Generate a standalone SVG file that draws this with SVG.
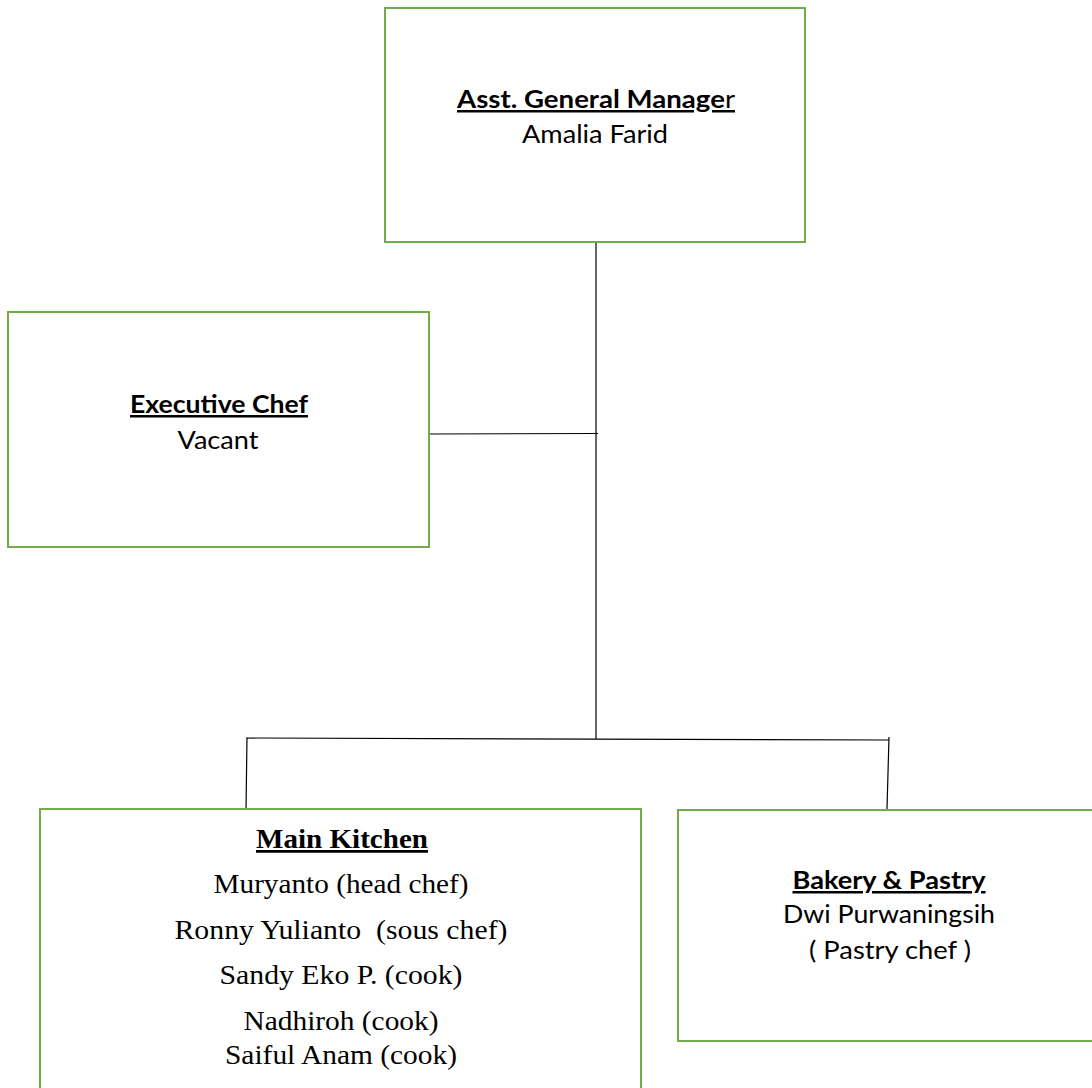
<svg xmlns="http://www.w3.org/2000/svg" width="1092" height="1088" viewBox="0 0 1092 1088">
<style>
.box{fill:#fff;stroke:#70AD47;stroke-width:2}
.c{fill:none;stroke:#000;stroke-width:1.2}
.s{font-family:Lato,"Liberation Sans",sans-serif;font-size:25px;fill:#000;text-anchor:middle}
.sb{font-weight:bold;text-decoration:underline}
.t{font-family:"Liberation Serif",serif;font-size:27.5px;fill:#000;text-anchor:middle}
.tb{font-weight:bold;text-decoration:underline}
</style>
<rect width="1092" height="1088" fill="#fff"/>
<g id="connectors">
<path class="c" d="M596 242 V739"/>
<path class="c" d="M429 434 L598 433.5"/>
<path class="c" d="M246 738 L889 740"/>
<path class="c" d="M247 738 L246 810"/>
<path class="c" d="M889 737 L887 809"/>
</g>
<g id="agm">
<rect class="box" x="385" y="8" width="420" height="234"/>
<text class="s" x="596" y="108" textLength="278" lengthAdjust="spacingAndGlyphs"><tspan class="sb">Asst. General Manage</tspan><tspan text-decoration="underline">r</tspan></text>
<text class="s" x="595" y="143" textLength="146" lengthAdjust="spacingAndGlyphs">Amalia Farid</text>
</g>
<g id="exec">
<rect class="box" x="8" y="312" width="421" height="235"/>
<text class="s sb" x="219" y="413" textLength="178" lengthAdjust="spacingAndGlyphs">Executive Chef</text>
<text class="s" x="218" y="449" textLength="81" lengthAdjust="spacingAndGlyphs">Vacant</text>
</g>
<g id="main">
<rect class="box" x="40" y="809" width="601" height="290"/>
<text class="t tb" x="342" y="848" textLength="172" lengthAdjust="spacingAndGlyphs">Main Kitchen</text>
<text class="t" x="341" y="893" textLength="255" lengthAdjust="spacingAndGlyphs">Muryanto (head chef)</text>
<text class="t" x="341" y="939" textLength="333" lengthAdjust="spacingAndGlyphs" xml:space="preserve">Ronny Yulianto  (sous chef)</text>
<text class="t" x="341" y="984" textLength="243" lengthAdjust="spacingAndGlyphs">Sandy Eko P. (cook)</text>
<text class="t" x="341" y="1030" textLength="195" lengthAdjust="spacingAndGlyphs">Nadhiroh (cook)</text>
<text class="t" x="341" y="1064" textLength="232" lengthAdjust="spacingAndGlyphs">Saiful Anam (cook)</text>
</g>
<g id="bakery">
<rect class="box" x="678" y="810" width="420" height="231"/>
<text class="s sb" x="889" y="889" textLength="193" lengthAdjust="spacingAndGlyphs">Bakery &amp; Pastry</text>
<text class="s" x="889" y="923" textLength="212" lengthAdjust="spacingAndGlyphs">Dwi Purwaningsih</text>
<text class="s" x="890" y="959" textLength="162" lengthAdjust="spacingAndGlyphs">( Pastry chef )</text>
</g>
</svg>
